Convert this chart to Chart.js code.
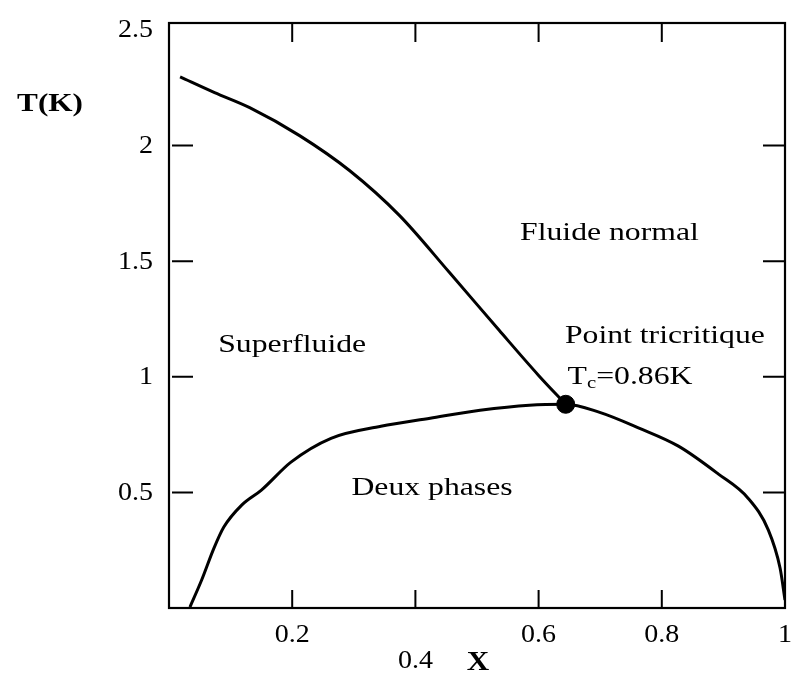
<!DOCTYPE html>
<html>
<head>
<meta charset="utf-8">
<script src="https://cdn.jsdelivr.net/npm/chart.js@4"></script>
<style>
  body { margin: 0; background: #fff; }
  #wrap { width: 795px; height: 675px; }
</style>
</head>
<body>
<div id="wrap"><canvas id="grafico"></canvas></div>
<script>
// axes
const xTicks = [0.2, 0.4, 0.6, 0.8, 1];
const yTicks = [0.5, 1, 1.5, 2, 2.5];

// ligne lambda (superfluide / fluide normal)
const lambdaX = [0.018, 0.074, 0.131, 0.212, 0.293, 0.374, 0.455, 0.536, 0.600, 0.644];
const lambdaT = [2.297, 2.229, 2.164, 2.043, 1.892, 1.698, 1.452, 1.201, 1.006, 0.881];

// courbe de separation de phase
const sepX = [0.034, 0.053, 0.073, 0.089, 0.118, 0.150, 0.198, 0.263, 0.344, 0.424, 0.505, 0.585, 0.644,
              0.698, 0.763, 0.827, 0.892, 0.940, 0.973, 0.992, 1.0];
const sepT = [0.004, 0.121, 0.259, 0.350, 0.445, 0.510, 0.631, 0.734, 0.786, 0.821, 0.855, 0.877, 0.881,
              0.847, 0.778, 0.700, 0.579, 0.475, 0.337, 0.173, 0.035];

// point tricritique
const tcX = [0.644];
const tcT = [0.881];

const serif = "'Liberation Serif', 'Times New Roman', serif";

function pts(xs, ys) {
    return xs.map((x, i) => ({ x: x, y: ys[i] }));
}

// texte un peu etire horizontalement, comme dans le trace d'origine
function texte(ctx, str, x, y, align, size, sx, bold) {
    ctx.save();
    ctx.font = (bold ? 'bold ' : '') + size + 'px ' + serif;
    ctx.textAlign = align;
    ctx.textBaseline = 'middle';
    ctx.translate(x, y);
    ctx.scale(sx, 1);
    ctx.fillText(str, 0, 0);
    const w = ctx.measureText(str).width * sx;
    ctx.restore();
    return w;
}

// cadre, graduations interieures et textes
const decor = {
    id: 'decor',
    afterDraw(chart) {
        const ctx = chart.ctx;
        const a = chart.chartArea;
        const sx = chart.scales.x, sy = chart.scales.y;
        ctx.save();
        ctx.fillStyle = '#000';
        ctx.strokeStyle = '#000';
        ctx.lineWidth = 2.2;
        ctx.strokeRect(a.left, a.top, a.right - a.left, a.bottom - a.top);

        ctx.lineWidth = 2;
        ctx.beginPath();
        xTicks.slice(0, -1).forEach(v => {
            const px = sx.getPixelForValue(v);
            ctx.moveTo(px, a.top); ctx.lineTo(px, a.top + 19);
            ctx.moveTo(px, a.bottom); ctx.lineTo(px, a.bottom - 18);
        });
        yTicks.slice(0, -1).forEach(v => {
            const py = sy.getPixelForValue(v);
            ctx.moveTo(a.left + 3, py); ctx.lineTo(a.left + 24, py);
            ctx.moveTo(a.right, py); ctx.lineTo(a.right - 22, py);
        });
        ctx.stroke();

        // etiquettes des axes
        xTicks.forEach(v => {
            const dy = v === 0.4 ? 53 : 27;
            texte(ctx, String(v), sx.getPixelForValue(v), a.bottom + dy, 'center', 25, 1.12);
        });
        yTicks.forEach(v => {
            texte(ctx, String(v), a.left - 16, sy.getPixelForValue(v) + 1, 'right', 25, 1.12);
        });

        texte(ctx, 'Fluide normal', sx.getPixelForValue(0.715), sy.getPixelForValue(1.62), 'center', 26, 1.22);
        texte(ctx, 'Superfluide', sx.getPixelForValue(0.2), sy.getPixelForValue(1.136), 'center', 26, 1.22);
        texte(ctx, 'Point tricritique', sx.getPixelForValue(0.805), sy.getPixelForValue(1.175), 'center', 26, 1.22);
        texte(ctx, 'Deux phases', sx.getPixelForValue(0.427), sy.getPixelForValue(0.518), 'center', 26, 1.22);

        // T_c=0.86K
        let tx = sx.getPixelForValue(0.647);
        const ty = sy.getPixelForValue(0.998);
        tx += texte(ctx, 'T', tx, ty, 'left', 26, 1.22);
        tx += texte(ctx, 'c', tx, ty + 6, 'left', 17, 1.22);
        texte(ctx, '=0.86K', tx, ty, 'left', 26, 1.22);

        texte(ctx, 'T(K)', a.left - 119, sy.getPixelForValue(2.18), 'center', 26, 1.2, true);
        texte(ctx, 'X', (a.left + a.right) / 2 + 1, a.bottom + 55, 'center', 27, 1.15, true);
        ctx.restore();
    }
};

const ctx = document.getElementById('grafico').getContext('2d');
const myChart = new Chart(ctx, {
    type: 'line',
    data: {
        datasets: [
            {
                data: pts(lambdaX, lambdaT),
                borderColor: '#000',
                borderWidth: 3,
                pointRadius: 0,
                cubicInterpolationMode: 'monotone',
                fill: false
            },
            {
                data: pts(sepX, sepT),
                borderColor: '#000',
                borderWidth: 3,
                pointRadius: 0,
                cubicInterpolationMode: 'monotone',
                fill: false
            },
            {
                data: pts(tcX, tcT),
                showLine: false,
                pointRadius: 9,
                pointBackgroundColor: '#000',
                pointBorderColor: '#000'
            }
        ]
    },
    options: {
        responsive: true,
        maintainAspectRatio: false,
        animation: false,
        layout: { padding: { top: 23, right: 8, left: 0, bottom: 0 } },
        plugins: { legend: { display: false }, tooltip: { enabled: false } },
        scales: {
            x: {
                type: 'linear',
                min: 0,
                max: 1,
                grid: { display: false, drawTicks: false },
                border: { display: false },
                ticks: { display: false },
                afterFit: s => {
                    s.height = 67;
                    s.paddingLeft = 0; s.paddingRight = 0;
                }
            },
            y: {
                type: 'linear',
                min: 0,
                max: 2.53,
                grid: { display: false, drawTicks: false },
                border: { display: false },
                ticks: { display: false },
                afterFit: s => {
                    s.width = 169;
                    s.paddingTop = 0; s.paddingBottom = 0;
                }
            }
        }
    },
    plugins: [decor]
});
</script>
</body>
</html>
